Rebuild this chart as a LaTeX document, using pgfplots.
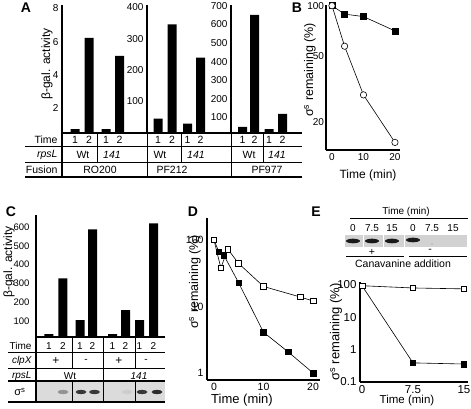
\documentclass[border=0pt]{standalone}
\usepackage{pgfplots}
\pgfplotsset{compat=1.18}
\usepackage{fontspec}
\setmainfont{Liberation Sans}
\begin{document}
\begin{tikzpicture}[font=\fontsize{10.5}{11}\selectfont]
\pgfplotsset{
 every axis/.append style={scale only axis, anchor=south west,
   /pgf/number format/assume math mode=true,
   tick label style={font=\fontsize{10}{11}\selectfont},
   axis line style={-, line width=1.4pt},
   major tick length=0pt, minor tick length=0pt},
 barax/.style={axis y line*=left, axis x line=none, xtick=\empty},
}
% ---------- Panel A ----------
\begin{axis}[barax, at={(62pt,276pt)}, width=85pt, height=128pt,
  xmin=62, xmax=147, ymin=0.5, ymax=8.2, ytick={2,4,6,8}]
\addplot[ybar, bar width=9pt, fill=black, draw=none] coordinates {(75,0.74) (89,6.22) (106,0.74) (119.5,5.14)};
\end{axis}
\begin{axis}[barax, at={(147pt,276pt)}, width=84pt, height=128pt,
  xmin=147, xmax=231, ymin=0, ymax=407, ytick={100,200,300,400}]
\addplot[ybar, bar width=9pt, fill=black, draw=none] coordinates {(158,46) (172,345) (187.5,30) (200.5,240)};
\end{axis}
\begin{axis}[barax, at={(231pt,276pt)}, width=69pt, height=128pt,
  xmin=231, xmax=300, ymin=15, ymax=705, ytick={100,200,300,400,500,600,700}]
\addplot[ybar, bar width=9pt, fill=black, draw=none] coordinates {(242.5,48) (254.5,652) (269,36) (282.5,118)};
\end{axis}
% ---------- Panel B ----------
\begin{axis}[at={(326pt,259pt)}, width=74pt, height=145pt,
  axis x line*=bottom, axis y line*=left, clip=false,
  xmin=-1.9, xmax=21.6, ymode=log, ymin=13.5, ymax=101,
  xtick={0,10,20}, ytick={20,50,100}, yticklabels={20,50,100},
  yticklabel style={xshift=1.5pt}]
\addplot[black, line width=0.6pt, mark=square*, mark size=3pt] coordinates {(0,100) (4,89) (10,86) (20,70.5)};
\addplot[black, line width=0.6pt, mark=*, mark options={fill=white}, mark size=3.2pt] coordinates {(0,100) (4,57) (10,29) (20,15)};
\end{axis}
% ---------- Panel C ----------
\begin{axis}[barax, at={(36pt,72pt)}, width=129pt, height=122pt,
  tick label style={font=\fontsize{9.5}{10}\selectfont},
  yticklabel style={xshift=-3pt},
  xmin=36, xmax=165, ymin=15, ymax=664, ytick={100,200,300,400,500,600}]
\addplot[ybar, bar width=9pt, fill=black, draw=none] coordinates {(49,30) (63,327) (80,105) (92.5,588) (112.5,30) (125.5,158) (139.5,105) (153.5,620)};
\end{axis}
% ---------- Panel D ----------
\begin{axis}[at={(207pt,29pt)}, width=113pt, height=162pt,
  axis x line*=bottom, axis y line*=left, clip=false,
  tick label style={font=\fontsize{10.5}{11}\selectfont},
  xmin=-1.4, xmax=21.4, ymode=log, ymin=0.785, ymax=214,
  xtick={0,10,20}, ytick={1,10,100}, yticklabels={1,10,100}]
\addplot[black, line width=0.6pt, mark=square*, mark size=2.8pt] coordinates {(0,100) (1,66) (2,59) (5,22.6) (10,4.1) (15,2.07) (20,1)};
\addplot[black, line width=0.6pt, mark=square*, mark options={fill=white}, mark size=2.8pt] coordinates {(0,100) (1.4,38) (2.8,73) (4.9,45) (10,20) (17.4,13.9) (20,12.1)};
\end{axis}
% ---------- Panel E ----------
\begin{axis}[at={(360pt,27pt)}, width=108pt, height=100pt,
  axis x line*=bottom, axis y line*=left, clip=false,
  axis line style={-, line width=2.2pt},
  tick label style={font=\fontsize{11.5}{12}\selectfont},
  xmin=-0.3, xmax=15.6, ymode=log, ymin=0.1, ymax=124,
  xtick={0,7.5,15}, xticklabels={0,7.5,15},
  ytick={0.1,1,10,100}, yticklabels={0.1,1,10,100}]
\addplot[black, line width=0.6pt, mark=square*, mark size=2.8pt] coordinates {(0,95) (7.5,0.39) (15,0.36)};
\addplot[black, line width=0.6pt, mark=square*, mark options={fill=white}, mark size=2.8pt] coordinates {(0,95) (7.5,81) (15,76)};
\end{axis}
% ---------- annotations (pixel coordinates, y downward) ----------
\begin{scope}[x=1pt, y=-1pt, yshift=409pt]
\tikzset{lab/.style={font=\bfseries\fontsize{14}{14}\selectfont}}
\node[lab] at (26,8) {A};
\node[lab] at (297,8) {B};
\node[lab] at (11,212) {C};
\node[lab] at (193,212) {D};
\node[lab] at (316,212) {E};
% A labels and table
\node[rotate=90, font=\fontsize{12}{12}\selectfont] at (47,64) {β-gal. activity};
\draw[line width=1.4pt] (62,133) -- (302,133);
\draw[line width=0.6pt] (25,146) -- (302,146);
\draw[line width=0.6pt] (25,162) -- (302,162);
\draw[line width=1.4pt] (25,177) -- (302,177);
\draw[line width=1.4pt] (62,133) -- (62,177);
\draw[line width=0.7pt] (147,133) -- (147,177);
\draw[line width=0.7pt] (231,133) -- (231,177);
\draw[line width=0.6pt] (97,133) -- (97,162);
\draw[line width=0.6pt] (181,133) -- (181,162);
\draw[line width=0.6pt] (263,133) -- (263,162);
\node[anchor=east] at (61,140) {Time};
\node[anchor=east] at (61,155) {\itshape rpsL};
\node[anchor=east] at (61,170) {Fusion};
\foreach \x/\t in {75/1,89/2,106/1,119.5/2,158/1,172/2,187.5/1,200.5/2,242.5/1,254.5/2,269/1,282.5/2}
  \node at (\x,140) {\t};
\node at (83,155) {Wt};
\node at (112,155) {\itshape 141};
\node at (160,155) {Wt};
\node at (196,155) {\itshape 141};
\node at (249,155) {Wt};
\node at (277,155) {\itshape 141};
\node at (100,170) {RO200};
\node at (172,170) {PF212};
\node at (267,170) {PF977};
% B labels
\node[rotate=90, font=\fontsize{12.5}{13}\selectfont] at (310,70) {σ\textsuperscript{s} remaining (\%)};
\node[font=\fontsize{12}{12}\selectfont] at (368,175) {Time (min)};
% C labels and table
\node[rotate=90, font=\fontsize{12}{12}\selectfont] at (9,262) {β-gal. activity};
\draw[line width=1.4pt] (36,337) -- (165,337);
\draw[line width=0.6pt] (8,352) -- (165,352);
\draw[line width=0.6pt] (8,368) -- (165,368);
\draw[line width=1.4pt] (8,381) -- (165,381);
\fill[gray!28] (37,382.5) rectangle (165,401);
\foreach \x/\s in {63/45,81/85,94.5/85,127/20,142/85,157/90}
  \fill[black!\s, opacity=0.9] (\x,392) ellipse (5.5pt and 2.2pt);
\draw[line width=1.4pt] (8,402) -- (165,402);
\draw[line width=1.4pt] (36,337) -- (36,402);
\draw[line width=0.6pt] (72,337) -- (72,368);
\draw[line width=0.6pt] (72,381) -- (72,402);
\draw[line width=0.6pt] (103,337) -- (103,402);
\draw[line width=0.6pt] (135,337) -- (135,368);
\draw[line width=0.6pt] (135,381) -- (135,402);
\begin{scope}[font=\fontsize{10}{11}\selectfont]
\node[anchor=east] at (35,346) {Time};
\node[anchor=east] at (35,361) {\itshape clpX};
\node[anchor=east] at (35,376) {\itshape rpsL};
\node[anchor=east, font=\fontsize{11}{11}\selectfont] at (29,392) {σ\textsuperscript{s}};
\foreach \x/\t in {49/1,63/2,80/1,92.5/2,112.5/1,125.5/2,139.5/1,153.5/2}
  \node at (\x,346) {\t};
\node[font=\fontsize{12}{12}\selectfont] at (56,361) {+};
\node at (86,361) {-};
\node[font=\fontsize{12}{12}\selectfont] at (119,361) {+};
\node at (146,361) {-};
\node at (70,376) {Wt};
\node at (139,376) {\itshape 141};
\end{scope}
% D labels
\node[rotate=90, font=\fontsize{12.5}{13}\selectfont] at (195,282) {σ\textsuperscript{s} remaining (\%)};
\node[font=\fontsize{13}{13}\selectfont] at (242,400) {Time (min)};
% E gel
\node[font=\fontsize{10}{11}\selectfont] at (406,212) {Time (min)};
\draw[line width=0.6pt] (350,218) -- (468,218);
\foreach \x/\t in {353/0,372/7.5,392/15,413/0,432/7.5,453/15}
  \node[font=\fontsize{10}{11}\selectfont] at (\x,228) {\t};
\fill[gray!35] (345,235) rectangle (467,247);
\foreach \x in {363,383,404} \draw[white, line width=0.8pt] (\x,235) -- (\x,247);
\foreach \x/\yy in {353/241,372/241,392/241,413/240}
  \fill[black!90] (\x,\yy) ellipse (7pt and 2.3pt);
\fill[black!45] (432,244) circle (0.6pt);
\node at (372,252) {+};
\node at (430,251) {-};
\draw[line width=0.6pt] (346,256) -- (404,256);
\draw[line width=0.6pt] (409,256) -- (467,256);
\node[font=\fontsize{10.5}{11}\selectfont] at (403,264) {Canavanine addition};
\node[rotate=90, font=\fontsize{13}{13}\selectfont] at (336,332) {σ\textsuperscript{s} remaining (\%)};
\node[font=\fontsize{11.5}{12}\selectfont] at (407,401) {Time (min)};
\end{scope}
\pgfresetboundingbox
\path (0,0) rectangle (471pt,409pt);
\end{tikzpicture}
\end{document}
